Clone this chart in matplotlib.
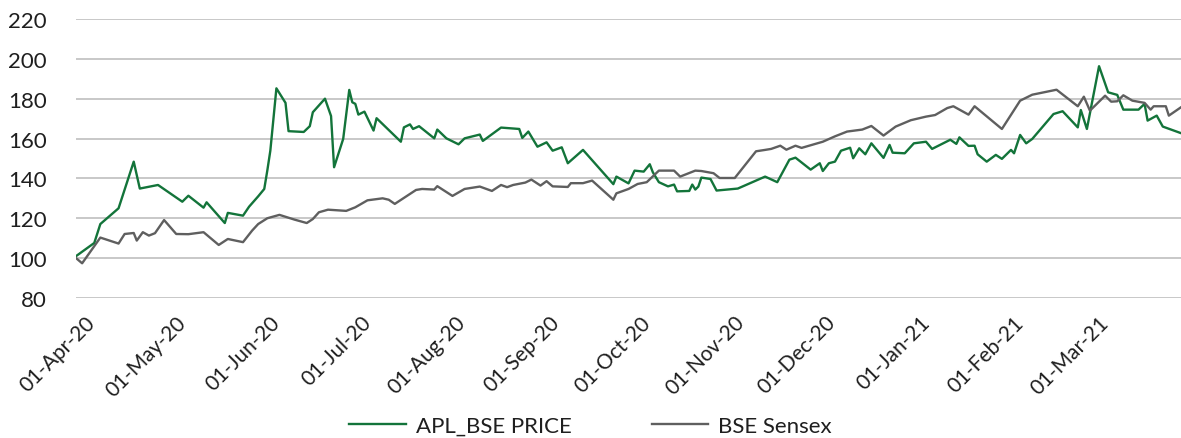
import pandas as pd
import matplotlib.pyplot as plt
import matplotlib.dates as mdates
from matplotlib.transforms import ScaledTranslation

plt.rcParams['font.family'] = ['Lato', 'DejaVu Sans']

# Dagen vanaf 01-Apr-20 met de geïndexeerde waarden
apl_days = [0, 6, 8, 14, 19, 21, 27, 35, 37, 42, 43, 49, 50, 55, 57, 60, 62, 63, 64,
            66, 69, 70, 75, 77, 78, 82, 84, 85, 88, 90, 91, 92, 93, 95, 98, 99, 107,
            108, 110, 111, 113, 118, 119, 122, 126, 128, 133, 134, 140, 146, 147, 149,
            152, 155, 157, 160, 162, 167, 177, 178, 182, 184, 187, 189, 190, 192, 195,
            197, 198, 202, 203, 204, 205, 206, 209, 211, 218, 227, 231, 235, 237, 242,
            245, 246, 248, 250, 252, 255, 256, 258, 260, 262, 266, 268, 269, 273, 276,
            280, 282, 288, 290, 291, 294, 296, 297, 300, 303, 305, 308, 309, 311, 313,
            315, 322, 325, 330, 331, 333, 337, 340, 343, 345, 350, 352, 353, 356, 358,
            364]
apl_price = [101, 107.6, 117.1, 125, 148.4, 134.9, 136.7, 128.3, 131.3, 125.3, 128,
             117.6, 122.7, 121.3, 125.8, 131, 134.7, 143.9, 153.9, 185.2, 177.9, 163.7,
             163.3, 166.2, 173.2, 180, 171.3, 145.6, 159.8, 184.4, 178.2, 177.4, 172,
             173.5, 164, 170.2, 158.4, 165.6, 167.1, 164.8, 166.2, 160.1, 164.5, 160.1,
             157.1, 160.1, 162, 158.8, 165.5, 164.8, 160.3, 163.5, 155.9, 158.1, 153.9,
             155.6, 147.6, 154.3, 137.1, 140.9, 137.5, 143.9, 143.4, 147.1, 143.1, 138.1,
             136, 136.9, 133.5, 133.7, 136.9, 134.4, 135.9, 140.4, 139.7, 133.9, 134.9,
             140.9, 138.1, 149.4, 150.4, 144.4, 147.6, 143.7, 147.6, 148.4, 153.9, 155.4,
             150.1, 155.1, 152.1, 157.6, 150.3, 156.8, 152.9, 152.6, 157.6, 158.4, 154.8,
             159.4, 157.3, 160.6, 156.3, 156.4, 152.1, 148.4, 151.8, 149.8, 154.3, 152.6,
             161.8, 157.6, 159.8, 172.3, 173.7, 165.6, 174.3, 164.8, 196.3, 183.2, 181.9,
             174.5, 174.5, 177.4, 169, 171.5, 166, 162.7]

sensex_days = [0, 2, 8, 14, 16, 19, 20, 22, 24, 26, 29, 33, 37, 42, 47, 50, 55, 58, 60,
               63, 67, 72, 76, 78, 80, 83, 89, 92, 96, 101, 103, 105, 112, 114, 118, 119,
               124, 128, 133, 137, 140, 142, 144, 148, 150, 153, 155, 157, 162, 163, 167,
               170, 177, 178, 182, 185, 188, 192, 197, 199, 204, 206, 210, 212, 217, 224,
               227, 229, 232, 234, 237, 239, 246, 250, 254, 259, 262, 266, 270, 275, 280,
               283, 287, 289, 294, 296, 305, 311, 315, 323, 330, 332, 334, 339, 341, 343,
               345, 348, 352, 354, 355, 359, 360, 364]
sensex = [100, 97.4, 110.3, 107.3, 112.1, 112.6, 108.8, 113, 111.3, 112.5, 119.1, 112.1,
          112, 113, 106.6, 109.6, 108, 113.8, 117.1, 120, 121.7, 119.3, 117.6, 119.6, 123,
          124.3, 123.7, 125.5, 129, 130, 129.3, 127.2, 134.2, 134.7, 134.4, 136.1, 131.2,
          134.7, 135.9, 133.7, 136.7, 135.6, 136.7, 137.9, 139.4, 136.4, 138.6, 136, 135.7,
          137.6, 137.6, 138.9, 129.3, 132.5, 134.7, 137.2, 138.1, 143.9, 143.9, 140.9,
          143.9, 143.7, 142.6, 140.2, 140.2, 153.6, 154.3, 154.8, 156.4, 154.4, 156.4,
          155.3, 158.4, 161.1, 163.5, 164.5, 166.3, 161.5, 166, 169.2, 171, 171.8, 175.3,
          176.2, 172, 176.2, 164.8, 179, 182, 184.5, 176.2, 181, 174, 181.5, 178.5, 178.7,
          181.7, 179, 177.9, 174.5, 176.2, 176.2, 171.5, 175.7]

start = pd.Timestamp('2020-04-01')
apl_dates = start + pd.to_timedelta(apl_days, unit='D')
sensex_dates = start + pd.to_timedelta(sensex_days, unit='D')
month_ticks = pd.date_range('2020-04-01', '2021-03-01', freq='MS')

text_color = '#1f1f1f'
fig = plt.figure(figsize=(11.81, 4.39), dpi=100)
ax = fig.add_axes([0.0644, 0.319, 0.9356, 0.6355])

ax.plot(apl_dates, apl_price, color='#13743a', linewidth=1.7, label='APL_BSE PRICE')
ax.plot(sensex_dates, sensex, color='#5f5f5f', linewidth=1.7, label='BSE Sensex')

ax.set_xlim(start, start + pd.Timedelta(days=364))
ax.set_ylim(80, 220)
ax.set_yticks(range(80, 221, 20))
ax.set_xticks(month_ticks)
ax.xaxis.set_major_formatter(mdates.DateFormatter('%d-%b-%y'))

ax.grid(axis='y', color='#c8c8c8', linewidth=1.4)
ax.set_axisbelow(True)
for s in ax.spines.values():
    s.set_visible(False)
ax.tick_params(axis='both', length=0, colors=text_color)
ax.tick_params(axis='y', pad=21, labelsize=16)
ax.tick_params(axis='x', pad=10, labelsize=15)

offset = ScaledTranslation(23 / 100, 0, fig.dpi_scale_trans)
for lbl in ax.get_xticklabels():
    lbl.set_rotation(45)
    lbl.set_ha('right')
    lbl.set_transform(lbl.get_transform() + offset)

fig.legend(loc='lower center', bbox_to_anchor=(0.5, -0.04), ncol=2, frameon=False,
           fontsize=16, handlelength=2.55, handletextpad=0.45, columnspacing=3.6,
           labelcolor=text_color)

plt.savefig('out.png', dpi=100)
